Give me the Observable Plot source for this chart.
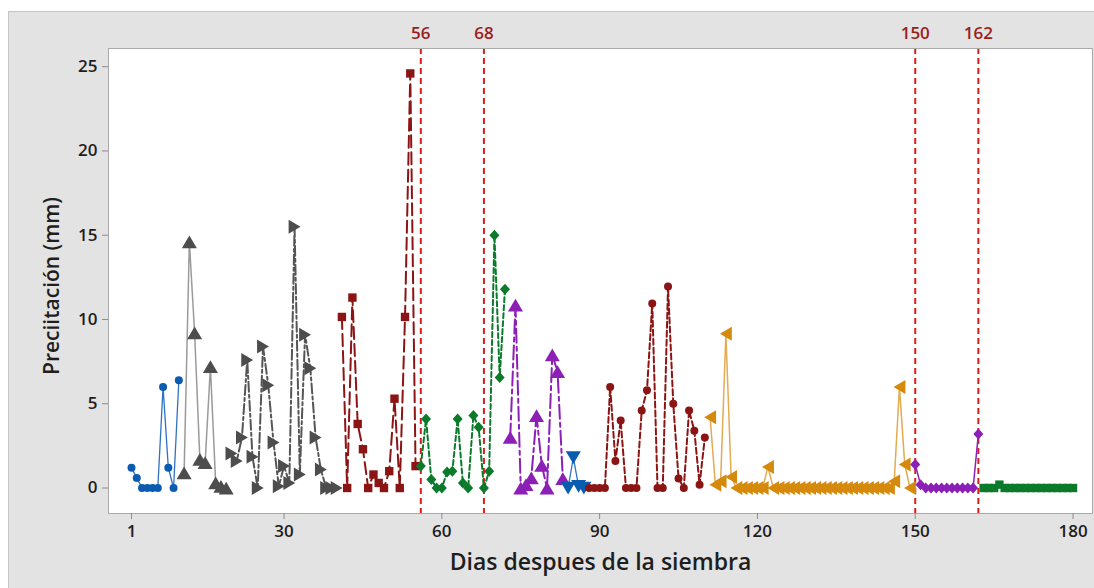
<!DOCTYPE html>
<html>
<head>
<meta charset="utf-8">
<script src="https://cdn.jsdelivr.net/npm/d3@7"></script>
<script src="https://cdn.jsdelivr.net/npm/@observablehq/plot@0.6"></script>
<style>
  html, body { margin: 0; padding: 0; background: #ffffff; }
  #panel {
    position: absolute; left: 8px; top: 11px; width: 1085px; height: 576px;
    background: #e3e3e3; border-left: 1px solid #c6c6c6; border-top: 1px solid #c6c6c6;
  }
  #panel svg { display: block; }
</style>
</head>
<body>
<div id="panel"></div>
<script>
// Precipitación diaria (mm) por etapa, días después de la siembra
const inicioEtapa = [1, 11, 20, 41, 56, 73, 84, 88, 111, 150, 163];

const etapa1 = [1.2, 0.6, 0, 0, 0, 0, 6.0, 1.2, 0, 6.4];
const etapa2 = [0.9, 14.6, 9.2, 1.7, 1.5, 7.2, 0.3, 0.1, 0];
const etapa3 = [2.05, 1.6, 3.0, 7.6, 1.85, 0, 8.4, 6.1, 2.7, 0.1, 1.3, 0.3, 15.5, 0.8, 9.1, 7.1, 3.0, 1.1, 0, 0, 0];
const etapa4 = [10.15, 0, 11.3, 3.8, 2.3, 0, 0.8, 0.3, 0, 1.0, 5.3, 0, 10.15, 24.6, 1.3];
const etapa5 = [1.3, 4.1, 0.5, 0, 0, 0.95, 1.0, 4.1, 0.3, 0, 4.3, 3.6, 0, 1.0, 15.0, 6.55, 11.8];
const etapa6 = [3.0, 10.85, 0, 0.2, 0.6, 4.3, 1.35, 0, 7.9, 6.9, 0.55];
const etapa7 = [0, 1.8, 0.1, 0];
const etapa8 = [0, 0, 0, 0, 6.0, 1.6, 4.0, 0, 0, 0, 4.6, 5.8, 10.95, 0, 0, 11.95, 5.0, 0.57, 0, 4.6, 3.4, 0.2, 3.0];
const etapa9 = [4.2, 0.2, 0.4, 9.15, 0.65, 0, 0, 0, 0, 0, 0, 1.25,
                0, 0, 0, 0, 0, 0, 0, 0, 0, 0, 0, 0, 0, 0, 0, 0, 0, 0, 0, 0, 0, 0, 0,
                0.4, 6.0, 1.4, 0];
const etapa10 = [1.4, 0.2, 0, 0, 0, 0, 0, 0, 0, 0, 0, 0, 3.2];
const etapa11 = [0, 0, 0, 0.2, 0, 0, 0, 0, 0, 0, 0, 0, 0, 0, 0, 0, 0, 0];

const diasReferencia = [56, 68, 150, 162];
const ticksDias = [1, 30, 60, 90, 120, 150, 180];
const ticksPrecip = [0, 5, 10, 15, 20, 25];

// Marker shapes (custom so every triangle orientation is available)
const shape = (pts) => ({
  draw(ctx, size) {
    const r = Math.sqrt(size / Math.PI);
    ctx.moveTo(pts[0][0] * r, pts[0][1] * r);
    for (let i = 1; i < pts.length; ++i) ctx.lineTo(pts[i][0] * r, pts[i][1] * r);
    ctx.closePath();
  }
});
const circulo = { draw(ctx, size) { const r = Math.sqrt(size / Math.PI); ctx.moveTo(r, 0); ctx.arc(0, 0, r, 0, 2 * Math.PI); } };
const cuadrado = shape([[-1, -1], [1, -1], [1, 1], [-1, 1]]);
const rombo = shape([[0, -1.1], [1, 0], [0, 1.1], [-1, 0]]);
const trianguloArriba = shape([[0, -0.85], [1, 0.85], [-1, 0.85]]);
const trianguloAbajo = shape([[0, 0.85], [1, -0.85], [-1, -0.85]]);
const trianguloDerecha = shape([[0.85, 0], [-0.85, -1], [-0.85, 1]]);
const trianguloIzquierda = shape([[-0.85, 0], [0.85, -1], [0.85, 1]]);

const etapas = [etapa1, etapa2, etapa3, etapa4, etapa5, etapa6, etapa7, etapa8, etapa9, etapa10, etapa11];

// Drawing style of each stage: marker, colours and line pattern
const estilos = [
  { symbol: circulo,            r: 4,   fill: "#0a5cb0", line: "#2f73c0", width: 1.3, dash: null },
  { symbol: trianguloArriba,    r: 7.5, fill: "#4d4d4d", line: "#9a9a9a", width: 1.5, dash: null },
  { symbol: trianguloDerecha,   r: 7,   fill: "#4d4d4d", line: "#555555", width: 2,   dash: "10,3,3,3" },
  { symbol: cuadrado,           r: 4.2, fill: "#8b1414", line: "#8b1414", width: 2,   dash: "12,5" },
  { symbol: rombo,              r: 5,   fill: "#0b7a2a", line: "#0b7a2a", width: 2,   dash: "5,3" },
  { symbol: trianguloArriba,    r: 7.5, fill: "#8c1fb5", line: "#8c1fb5", width: 2,   dash: "14,4,4,4" },
  { symbol: trianguloAbajo,     r: 7.5, fill: "#0a5cb0", line: "#2f73c0", width: 1.3, dash: null },
  { symbol: circulo,            r: 4,   fill: "#8b1414", line: "#8b1414", width: 2,   dash: "6,3" },
  { symbol: trianguloIzquierda, r: 7,   fill: "#d68a0c", line: "#e3ab52", width: 1.5, dash: null },
  { symbol: rombo,              r: 5,   fill: "#8c1fb5", line: "#8c1fb5", width: 1.5, dash: null },
  { symbol: cuadrado,           r: 4.2, fill: "#0b7a2a", line: "#0b7a2a", width: 2,   dash: null }
];

const marcas = [];
etapas.forEach((valores, k) => {
  const datos = valores.map((v, i) => ({ dia: inicioEtapa[k] + i, mm: v }));
  const e = estilos[k];
  marcas.push(Plot.line(datos, {
    x: "dia", y: "mm", stroke: e.line, strokeWidth: e.width,
    strokeDasharray: e.dash ?? undefined, strokeLinejoin: "round"
  }));
  marcas.push(Plot.dot(datos, {
    x: "dia", y: "mm", symbol: e.symbol, r: e.r, fill: e.fill, stroke: "none"
  }));
});

const fuente = "'Open Sans', 'Noto Sans', sans-serif";

const chart = Plot.plot({
  width: 1085,
  height: 576,
  marginLeft: 99,
  marginRight: 2,
  marginTop: 36,
  marginBottom: 75,
  style: { fontFamily: fuente, background: "transparent", overflow: "visible", color: "#1e1e1e" },
  x: { domain: [-3.373, 183.70] },
  y: { domain: [-1.513, 26.08] },
  marks: [
    Plot.frame({ fill: "white", stroke: "none" }),
    Plot.ruleX(diasReferencia, { stroke: "#dc1c1c", strokeWidth: 2, strokeDasharray: "6,4" }),
    ...marcas,
    Plot.frame({ stroke: "#a9a9a9" }),
    Plot.axisX(ticksDias, {
      tickSize: 6, tickPadding: 5, fontSize: 17, fontWeight: 600,
      stroke: "#8c8c8c", fill: "#1e1e1e", label: null
    }),
    Plot.axisY(ticksPrecip, {
      tickSize: 6, tickPadding: 5, fontSize: 17, fontWeight: 600,
      stroke: "#8c8c8c", fill: "#1e1e1e", label: null
    }),
    Plot.text(diasReferencia, {
      x: d => d, text: d => String(d), frameAnchor: "top", lineAnchor: "middle", dy: -15,
      fill: "#9b1c1c", fontSize: 17, fontWeight: 600
    }),
    Plot.text(["Dias despues de la siembra"], {
      text: d => d, frameAnchor: "bottom", lineAnchor: "middle", textAnchor: "middle", dy: 49,
      fill: "#1e1e1e", fontSize: 23, fontWeight: 600
    }),
    Plot.text(["Preciitación (mm)"], {
      text: d => d, frameAnchor: "left", lineAnchor: "middle", textAnchor: "middle",
      rotate: -90, dx: -56, dy: 5,
      fill: "#1e1e1e", fontSize: 21, fontWeight: 600
    })
  ]
});

document.getElementById("panel").appendChild(chart);
</script>
</body>
</html>
